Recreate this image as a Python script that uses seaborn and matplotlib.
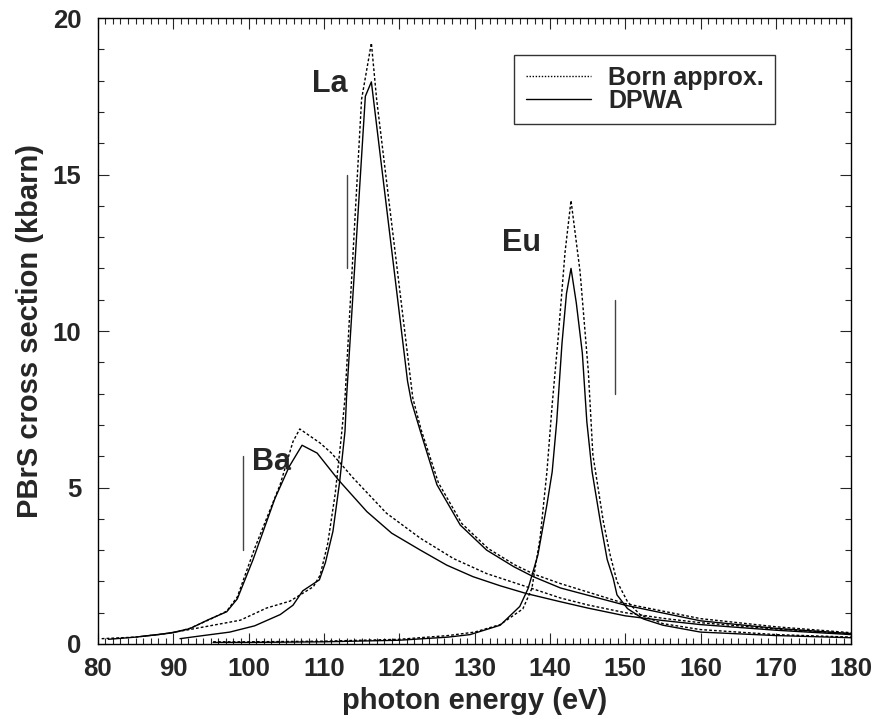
import numpy as np
import matplotlib
matplotlib.use("Agg")
import matplotlib.pyplot as plt
from matplotlib.lines import Line2D
import seaborn as sns

# Ba
ba_dpwa_x = [81.4, 85, 88, 90, 92.2, 94.6, 97.1, 98.5, 100.6, 103.5, 105.4, 107.1, 109.1, 111.9, 115.7, 119.0,
             122.8, 126.3, 129.8, 133.4, 136.9, 141.4, 145, 150, 155, 160, 170, 180]
ba_dpwa_y = [0.15, 0.22, 0.3, 0.37, 0.49, 0.77, 1.03, 1.44, 2.7, 4.65, 5.67, 6.35, 6.1, 5.25, 4.23, 3.54,
             3.0, 2.52, 2.15, 1.86, 1.61, 1.35, 1.15, 0.9, 0.75, 0.62, 0.44, 0.3]
ba_born_x = [80.5, 85, 90, 92.2, 95, 97.1, 98.5, 100.8, 104.2, 105.9, 106.8, 109.5, 111.0, 113.9, 118.3, 122.8,
             127.2, 131.6, 136.9, 141.4, 145, 150, 155, 160, 170, 180]
ba_born_y = [0.17, 0.22, 0.36, 0.5, 0.8, 1.05, 1.5, 3.05, 5.1, 6.47, 6.87, 6.42, 6.1, 5.3, 4.18, 3.38,
             2.73, 2.25, 1.83, 1.47, 1.25, 1.0, 0.82, 0.68, 0.48, 0.33]

# La
la_dpwa_x = [90.9, 94, 97.5, 100.8, 104.2, 105.9, 107.2, 109.4, 110.2, 111.2, 112.1, 112.8, 113.0, 115.5, 116.3,
             121.1, 121.6, 122.8, 125.0, 128.1, 131.6, 135.2, 137.8, 141.4, 150, 160, 170, 180]
la_dpwa_y = [0.17, 0.27, 0.38, 0.58, 0.94, 1.24, 1.7, 2.05, 2.6, 3.6, 5.2, 6.8, 7.86, 17.5, 17.96,
             8.4, 7.76, 6.8, 5.09, 3.8, 3.0, 2.47, 2.15, 1.79, 1.24, 0.74, 0.5, 0.33]
la_born_x = [86, 89.1, 93.5, 98.9, 102.4, 105.5, 108.6, 109.5, 110.5, 111.5, 112.3, 112.8, 115.0, 116.3, 117.0,
             121.8, 122.9, 125.2, 128.3, 131.8, 135.4, 138, 141.4, 150, 160, 170, 180]
la_born_y = [0.25, 0.33, 0.52, 0.76, 1.15, 1.37, 1.83, 2.2, 3.2, 4.8, 6.6, 7.86, 17.4, 19.2, 17.4,
             7.86, 6.85, 5.15, 3.85, 3.05, 2.52, 2.22, 1.93, 1.29, 0.81, 0.55, 0.36]

# Eu
eu_dpwa_x = [95.3, 100, 110, 120, 126.5, 129.4, 133.4, 136.0, 137.1, 138.4, 139.6, 140.3, 140.9, 141.6, 142.2,
             142.8, 143.5, 144.3, 144.9, 145.6, 146.7, 147.6, 148.4, 148.9, 150.3, 152.4, 155, 160, 170, 180]
eu_dpwa_y = [0.05, 0.05, 0.07, 0.12, 0.22, 0.3, 0.6, 1.2, 1.77, 2.84, 4.45, 5.5, 7.1, 9.6, 11.2,
             12.0, 10.9, 9.3, 7.1, 5.5, 3.9, 2.7, 2.1, 1.57, 1.13, 0.8, 0.6, 0.38, 0.27, 0.2]
eu_born_x = [95.3, 100, 110, 120, 126.5, 130, 133.4, 136.4, 137.6, 138.7, 139.6, 140.3, 141.1, 142.0, 142.8,
             144.0, 145.1, 145.7, 147.1, 148.0, 148.9, 150.3, 152.0, 155, 160, 170, 180]
eu_born_y = [0.07, 0.07, 0.09, 0.15, 0.27, 0.38, 0.62, 1.12, 1.77, 3.4, 5.5, 7.65, 9.8, 12.5, 14.17,
             11.9, 8.7, 6.05, 3.9, 2.84, 2.0, 1.35, 0.93, 0.65, 0.46, 0.3, 0.22]

# threshold marks and element labels
marker_x = [99.3, 113.1, 148.7]
marker_lo = [3, 12, 8]
marker_hi = [6, 15, 11]
elements = ["Ba", "La", "Eu"]
label_x = [103.0, 110.8, 136.2]
label_y = [5.8, 17.9, 12.8]

sns.set_style("ticks")
plt.rcParams['font.family'] = ['Liberation Sans', 'DejaVu Sans']
plt.rcParams['font.weight'] = 'bold'

fig = plt.figure(figsize=(8.74, 7.21), dpi=100)
ax = fig.add_axes([0.112, 0.1068, 0.862, 0.8682])

curves = [(ba_born_x, ba_born_y, ba_dpwa_x, ba_dpwa_y),
          (la_born_x, la_born_y, la_dpwa_x, la_dpwa_y),
          (eu_born_x, eu_born_y, eu_dpwa_x, eu_dpwa_y)]
for bx, by, dx, dy in curves:
    sns.lineplot(x=bx, y=by, ax=ax, color='black', lw=1.0, linestyle=(0, (2, 1.5)),
                 sort=False, estimator=None)
    sns.lineplot(x=dx, y=dy, ax=ax, color='black', lw=1.0, sort=False, estimator=None)

# vertical threshold lines
for mx, lo, hi in zip(marker_x, marker_lo, marker_hi):
    ax.plot([mx, mx], [lo, hi], color='#444444', lw=1.0)

for name, tx, ty in zip(elements, label_x, label_y):
    ax.text(tx, ty, name, fontsize=22, fontweight='bold', ha='center', va='center')

ax.set_xlim(80, 180)
ax.set_ylim(0, 20)
ax.set_xticks(np.arange(80, 181, 10))
ax.set_yticks(np.arange(0, 21, 5))
ax.set_xticks(np.arange(80, 181, 1), minor=True)
ax.set_yticks(np.arange(0, 21, 1), minor=True)
ax.tick_params(which='both', direction='in', top=True, right=True, labelsize=18.5, width=0.8)
ax.tick_params(which='major', length=8)
ax.tick_params(which='minor', length=4)
ax.tick_params(axis='x', which='major', pad=9.5)
ax.tick_params(axis='y', which='major', pad=12)
for lab in ax.get_xticklabels() + ax.get_yticklabels():
    lab.set_fontweight('bold')
for sp in ax.spines.values():
    sp.set_linewidth(1.0)
    sp.set_color('black')

ax.set_xlabel('photon energy (eV)', fontsize=21, fontweight='bold', labelpad=4)
ax.set_ylabel('PBrS cross section (kbarn)', fontsize=21, fontweight='bold', labelpad=6)

handles = [Line2D([], [], color='black', lw=1.0, linestyle=(0, (1, 1.2))),
           Line2D([], [], color='black', lw=1.0)]
leg = ax.legend(handles, ['Born approx.', 'DPWA'], loc='upper right', bbox_to_anchor=(0.899, 0.941),
                fontsize=18, frameon=True, fancybox=False, edgecolor='black', handlelength=2.6,
                borderpad=0.45, labelspacing=-0.05, handletextpad=0.7, borderaxespad=0.0)
leg.get_frame().set_linewidth(1.0)
for t in leg.get_texts():
    t.set_fontweight('bold')

fig.savefig('out.png', dpi=100)
